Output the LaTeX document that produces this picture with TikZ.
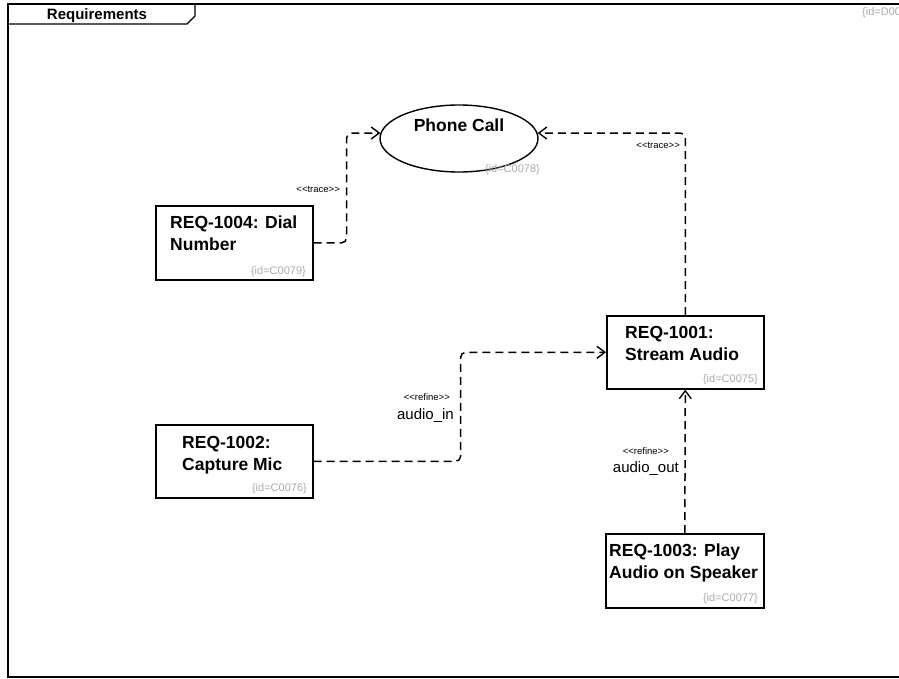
\documentclass[tikz,border=0pt]{standalone}
\usepackage{fontspec}
\setmainfont{Liberation Sans}
\usetikzlibrary{arrows.meta,shapes.geometric}
\definecolor{idgray}{RGB}{170,170,170}
\newcommand{\lt}{<\kern0pt}
\newcommand{\gt}{>\kern0pt}
\begin{document}
\begin{tikzpicture}[x=1pt,y=-1pt,
  frame/.style={draw,line width=1.4pt},
  box/.style={draw,line width=1.6pt,rectangle,inner sep=0pt,anchor=north west},
  usecase/.style={draw,line width=1.4pt,ellipse,inner sep=0pt,minimum width=158pt,minimum height=67pt},
  title/.style={font=\fontsize{17.5}{22}\selectfont\bfseries,align=left,inner sep=0pt},
  idl/.style={font=\fontsize{11}{13}\selectfont,text=idgray,inner sep=0pt},
  stereo/.style={font=\fontsize{9.5}{11}\selectfont,inner sep=0pt},
  lname/.style={font=\fontsize{15}{17}\selectfont,inner sep=0pt},
  dep/.style={draw,line width=1.5pt,dash pattern=on 8pt off 5pt,rounded corners=5pt,
    -{Straight Barb[length=8pt,width=12pt,line width=1.4pt]}}]
\useasboundingbox (0,0) rectangle (899,678);
% frame
\draw[frame] (899,4) -- (8,4) -- (8,677) -- (899,677);
\draw[frame] (8,24) -- (187,24) -- (195,16) -- (195,4);
\node[font=\fontsize{15}{17}\selectfont\bfseries,inner sep=0pt,anchor=base] (ftitle) at (97,19) {Requirements};
\node[idl,anchor=base west] (fid) at (862,15) {\{id=D0018\}};
% use case
\node[usecase] (phone) at (459,138.5) {};
\node[font=\fontsize{17.5}{22}\selectfont\bfseries,inner sep=0pt,anchor=base] (tphone) at (459,131) {Phone Call};
\node[idl,anchor=base east] (iphone) at (540,172) {\{id=C0078\}};
% requirement boxes
\node[box,minimum width=157pt,minimum height=74pt] (r1004) at (155,205) {};
\node[box,minimum width=157pt,minimum height=73pt] (r1002) at (155,424) {};
\node[box,minimum width=157pt,minimum height=73pt] (r1001) at (606,315) {};
\node[box,minimum width=158pt,minimum height=74pt] (r1003) at (605,533) {};
\node[title,anchor=base west] (t1004) at (170,250) {REQ-1004: Dial\\Number};
\node[title,anchor=base west] (t1002) at (182,470) {REQ-1002:\\Capture Mic};
\node[title,anchor=base west] (t1001) at (625,360) {REQ-1001:\\Stream Audio};
\node[title,anchor=base west] (t1003) at (609,578) {REQ-1003: Play\\Audio on Speaker};
\node[idl,anchor=base east] (i1004) at (306,274) {\{id=C0079\}};
\node[idl,anchor=base east] (i1002) at (307,491) {\{id=C0076\}};
\node[idl,anchor=base east] (i1001) at (758,382) {\{id=C0075\}};
\node[idl,anchor=base east] (i1003) at (758,601) {\{id=C0077\}};
% connectors
\draw[dep] (r1004.east) -- ++(33,0) |- (phone.176);
\draw[dep] (r1001.north) |- (phone.4);
\draw[dep] (r1002.east) -- ++(147,0) |- (r1001.west);
\draw[dep] (r1003.north) -- (r1001.south);
% connector labels
\node[stereo,anchor=base east] (s1) at (340,192) {\lt\lt trace\gt\gt};
\node[stereo,anchor=base east] (s2) at (680,148) {\lt\lt trace\gt\gt};
\node[stereo,anchor=base east] (s3) at (450,400) {\lt\lt refine\gt\gt};
\node[lname,anchor=base east] (n3) at (454,419) {audio\_in};
\node[stereo,anchor=base east] (s4) at (669,454) {\lt\lt refine\gt\gt};
\node[lname,anchor=base east] (n4) at (679,472) {audio\_out};
\end{tikzpicture}
\end{document}
